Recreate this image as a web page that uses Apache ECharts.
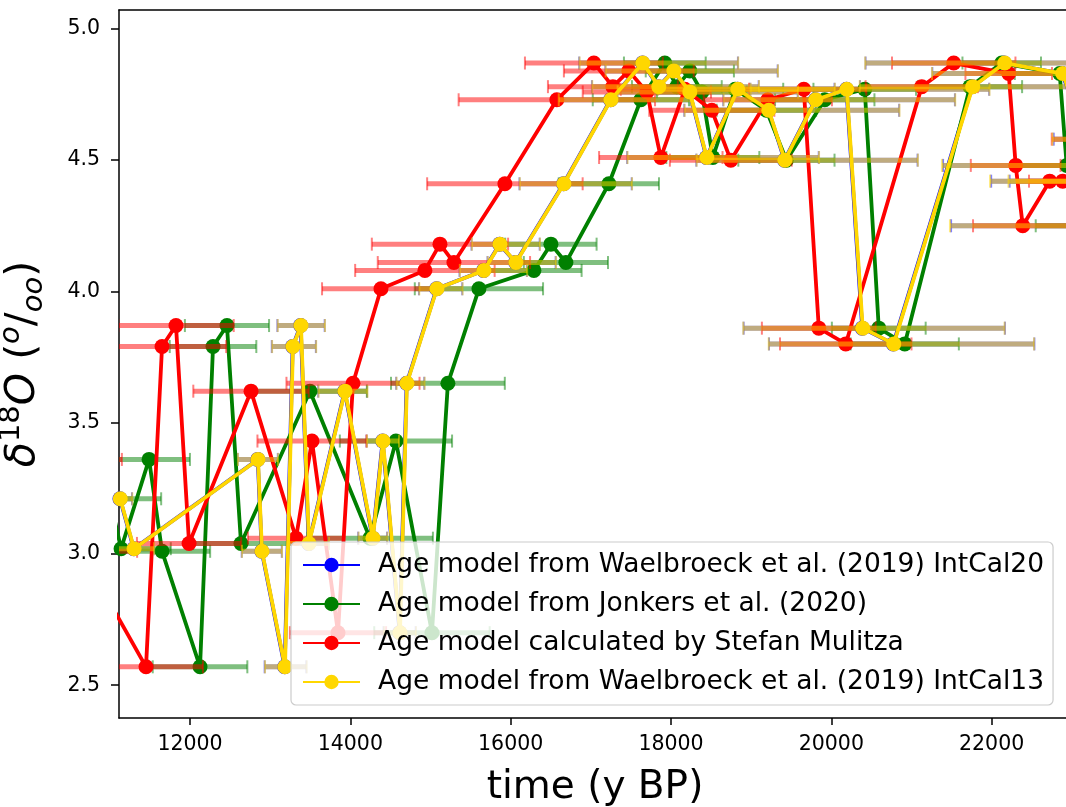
<!DOCTYPE html>
<html>
<head>
<meta charset="utf-8">
<script src="https://cdn.jsdelivr.net/npm/echarts@6/dist/echarts.min.js"></script>
<style>
html,body{margin:0;padding:0;background:#fff;}
#chart{width:1066px;height:807px;}
</style>
</head>
<body>
<div id="chart"></div>
<script>
// ---- data ----
const seriesNames = [
  'Age model from Waelbroeck et al. (2019) IntCal20',
  'Age model from Jonkers et al. (2020)',
  'Age model calculated by Stefan Mulitza',
  'Age model from Waelbroeck et al. (2019) IntCal13'
];
const d18O = [3.21, 3.02, 3.36, 3.01, 2.57, 3.79, 3.87, 3.04, 3.62, 3.06, 3.43, 2.70, 3.65, 4.01, 4.08, 4.18, 4.11, 4.41, 4.73, 4.87, 4.78, 4.84, 4.76, 4.51, 4.77, 4.69, 4.50, 4.73, 4.77, 3.86, 3.80, 4.78, 4.87, 4.83, 4.48, 4.25, 4.42, 4.42, 4.58];

const ageIntCal20 = [11126, 11298, 12845, 12895, 13181, 13280, 13380, 13480, 13929, 14278, 14403, 14615, 14702, 15076, 15662, 15862, 16061, 16660, 17246, 17645, 17844, 18031, 18231, 18443, 18830, 19216, 19416, 19802, 20189, 20386, 20773, 21758, 22157, 22880, 23294, 23444, 23594, 23744, 23994];
const errMinusIntCal20 = [200, 250, 250, 250, 250, 260, 290, 250, 330, 180, 200, 200, 130, 220, 300, 350, 350, 550, 650, 790, 830, 850, 900, 990, 1000, 1050, 1100, 1150, 1200, 1480, 1550, 1400, 1730, 1620, 1900, 1950, 1600, 1520, 1220];
const errPlusIntCal20 = [150, 250, 250, 250, 270, 290, 300, 250, 280, 180, 200, 200, 220, 320, 540, 500, 500, 850, 1000, 1190, 1250, 1300, 1350, 1400, 1210, 1630, 1660, 1740, 1780, 1780, 1760, 1800, 1800, 1800, 1800, 1800, 1800, 1800, 1800];

const ageJonkers = [11000, 11140, 11489, 11651, 12125, 12287, 12461, 12636, 13496, 14245, 14569, 15018, 15217, 15604, 16290, 16502, 16689, 17225, 17624, 17923, 18073, 18235, 18385, 18522, 18800, 19190, 19440, 19918, 20417, 20592, 20916, 21730, 22126, 22849, 22936, 23150, 23350, 23500, 23750];
const errJonkers = [640, 620, 510, 600, 590, 540, 525, 600, 710, 785, 700, 720, 710, 800, 595, 570, 525, 625, 600, 510, 560, 550, 560, 580, 600, 620, 600, 620, 640, 585, 675, 650, 490, 560, 600, 600, 600, 600, 600];

const ageMulitza = [10100, 10250, 10450, 10640, 11451, 11651, 11825, 11988, 12761, 13322, 13521, 13846, 14033, 14382, 14930, 15118, 15292, 15928, 16576, 17038, 17275, 17474, 17699, 17873, 18173, 18509, 18746, 19208, 19657, 19844, 20180, 21128, 21527, 22213, 22300, 22388, 22724, 22886, 23350];
const errMulitza = [700, 700, 700, 700, 710, 800, 720, 650, 720, 600, 680, 600, 830, 735, 870, 850, 950, 970, 1225, 860, 810, 810, 800, 770, 800, 780, 760, 800, 780, 710, 820, 700, 770, 540, 560, 620, 400, 420, 600];

const ageIntCal13 = [11130, 11302, 12848, 12898, 13185, 13284, 13384, 13484, 13933, 14282, 14407, 14619, 14706, 15080, 15666, 15866, 16065, 16664, 17250, 17649, 17848, 18035, 18235, 18447, 18834, 19220, 19420, 19806, 20193, 20392, 20779, 21764, 22163, 22886, 23300, 23450, 23600, 23750, 24000];
const errMinusIntCal13 = [200, 250, 250, 250, 250, 260, 290, 250, 330, 180, 200, 200, 130, 220, 300, 350, 350, 550, 650, 790, 830, 850, 900, 990, 1000, 1050, 1100, 1150, 1200, 1490, 1560, 1410, 1740, 1630, 1920, 1970, 1620, 1540, 1240];
const errPlusIntCal13 = [150, 250, 250, 250, 270, 290, 300, 250, 280, 180, 200, 200, 220, 320, 540, 500, 500, 850, 1000, 1190, 1250, 1300, 1350, 1400, 1210, 1630, 1660, 1740, 1780, 1770, 1750, 1800, 1800, 1800, 1800, 1800, 1800, 1800, 1800];

const xTicks = [12000, 14000, 16000, 18000, 20000, 22000];
const yTicks = [2.5, 3.0, 3.5, 4.0, 4.5, 5.0];

// ---- build ----
const FONT = 'DejaVu Sans';
const colors = ['#0000ff', '#008000', '#ff0000', '#ffd700'];
const barColors = ['rgba(0,0,255,0.5)', 'rgba(0,128,0,0.5)', 'rgba(255,0,0,0.5)', 'rgba(255,215,0,0.5)'];
const models = [
  {age: ageIntCal20, lo: errMinusIntCal20, hi: errPlusIntCal20},
  {age: ageJonkers, lo: errJonkers, hi: errJonkers},
  {age: ageMulitza, lo: errMulitza, hi: errMulitza},
  {age: ageIntCal13, lo: errMinusIntCal13, hi: errPlusIntCal13}
];
const X_MIN = 11114, X_MAX = 22990, Y_MIN = 2.375, Y_MAX = 5.072;

function errRender(color) {
  return function (params, api) {
    const v = api.value(1);
    const p = api.coord([api.value(0), v]);
    const x1 = api.coord([api.value(2), v])[0];
    const x2 = api.coord([api.value(3), v])[0];
    const y = p[1];
    const cap = 6.5;
    return {
      type: 'group',
      children: [
        {type: 'line', shape: {x1: x1, y1: y, x2: x2, y2: y}, style: {stroke: color, lineWidth: 5}},
        {type: 'line', shape: {x1: x1, y1: y - cap, x2: x1, y2: y + cap}, style: {stroke: color, lineWidth: 2}},
        {type: 'line', shape: {x1: x2, y1: y - cap, x2: x2, y2: y + cap}, style: {stroke: color, lineWidth: 2}}
      ]
    };
  };
}

const series = [];
models.forEach(function (m, k) {
  series.push({
    type: 'custom',
    name: 'err' + k,
    z: 2 * k + 1,
    clip: true,
    silent: true,
    renderItem: errRender(barColors[k]),
    encode: {x: [0, 2, 3], y: 1},
    data: m.age.map(function (t, i) { return [t, d18O[i], t - m.lo[i], t + m.hi[i]]; })
  });
  series.push({
    type: 'line',
    name: seriesNames[k],
    z: 2 * k + 2,
    clip: true,
    data: m.age.map(function (t, i) { return [t, d18O[i]]; }),
    symbol: 'circle',
    symbolSize: 15,
    showAllSymbol: true,
    lineStyle: {color: colors[k], width: 3.8},
    itemStyle: {color: colors[k]},
    emphasis: {disabled: true},
    animation: false
  });
});

const chart = echarts.init(document.getElementById('chart'), null, {renderer: 'canvas'});
chart.setOption({
  animation: false,
  backgroundColor: '#ffffff',
  textStyle: {fontFamily: FONT},
  grid: {left: 119, top: 10, right: -5, bottom: 89, show: false, containLabel: false, outerBoundsMode: 'none'},
  legend: {
    data: seriesNames,
    orient: 'vertical',
    left: 291, top: 542,
    z: 30,
    selectedMode: false,
    itemWidth: 57, itemHeight: 18, itemGap: 9,
    padding: [8, 9, 8, 11],
    backgroundColor: 'rgba(255,255,255,0.8)',
    borderColor: '#cccccc', borderWidth: 1.2, borderRadius: 5,
    textStyle: {fontFamily: FONT, fontSize: 26.5, color: '#000', lineHeight: 30, padding: [0, 0, 0, 13]}
  },
  xAxis: [{
    type: 'value', min: X_MIN, max: X_MAX,
    name: 'time (y BP)', nameLocation: 'middle', nameGap: 50,
    nameTextStyle: {fontFamily: FONT, fontSize: 39, color: '#000'},
    axisLine: {show: true, onZero: false, lineStyle: {color: '#000', width: 1.5}},
    axisTick: {show: true, length: 7, customValues: xTicks, lineStyle: {color: '#000', width: 1.5}},
    axisLabel: {customValues: xTicks, margin: 16, fontFamily: FONT, fontSize: 20.5, color: '#000',
      formatter: function (v) { return String(Math.round(v)); }},
    splitLine: {show: false}
  }, {
    type: 'value', position: 'top', min: X_MIN, max: X_MAX,
    axisLine: {show: true, onZero: false, lineStyle: {color: '#000', width: 1.5}},
    axisTick: {show: false}, axisLabel: {show: false}, splitLine: {show: false}
  }],
  yAxis: {
    type: 'value', min: Y_MIN, max: Y_MAX,
    name: '{i|δ}{sup|18}{i|O}{p| (}{sup2|o}{p|/}{sub|oo}{p|)}',
    nameLocation: 'middle', nameGap: 70, nameRotate: 90,
    nameTextStyle: {
      color: '#000',
      rich: {
        i: {fontFamily: FONT, fontStyle: 'italic', fontSize: 41, lineHeight: 52, color: '#000'},
        p: {fontFamily: FONT, fontSize: 41, lineHeight: 52, color: '#000'},
        sup: {fontFamily: FONT, fontSize: 29, lineHeight: 31, verticalAlign: 'top', color: '#000'},
        sup2: {fontFamily: FONT, fontStyle: 'italic', fontSize: 29, lineHeight: 31, verticalAlign: 'top', color: '#000'},
        sub: {fontFamily: FONT, fontStyle: 'italic', fontSize: 29, lineHeight: 29, verticalAlign: 'bottom', color: '#000'}
      }
    },
    axisLine: {show: true, onZero: false, lineStyle: {color: '#000', width: 1.5}},
    axisTick: {show: true, length: 8, customValues: yTicks, lineStyle: {color: '#000', width: 1.5}},
    axisLabel: {customValues: yTicks, margin: 19, fontFamily: FONT, fontSize: 20.5, color: '#000',
      formatter: function (v) { return Number(v).toFixed(1); }},
    splitLine: {show: false}
  },
  series: series
});
</script>
</body>
</html>
